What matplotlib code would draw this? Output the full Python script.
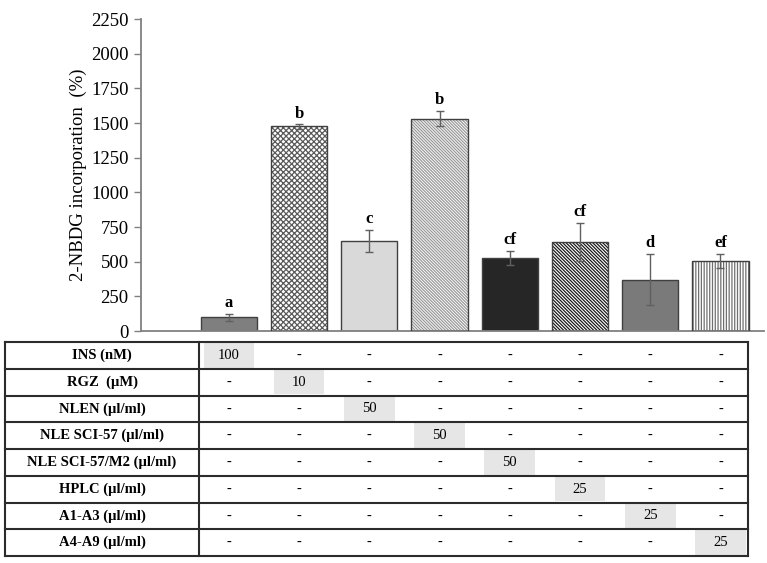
import numpy as np
import matplotlib
matplotlib.use("Agg")
import matplotlib.pyplot as plt

plt.rcParams['font.family'] = ['Liberation Serif', 'DejaVu Serif']
plt.rcParams['hatch.linewidth'] = 0.9

# datos
valores = [100, 1475, 650, 1530, 528, 642, 370, 505]
errores = [25, 15, 80, 55, 50, 140, 185, 50]
letras = ["a", "b", "c", "b", "cf", "cf", "d", "ef"]

filas = ["INS (nM)", "RGZ  (\u00b5M)", "NLEN (\u00b5l/ml)", "NLE SCI-57 (\u00b5l/ml)",
         "NLE SCI-57/M2 (\u00b5l/ml)", "HPLC (\u00b5l/ml)", "A1-A3 (\u00b5l/ml)", "A4-A9 (\u00b5l/ml)"]
dosis = ["100", "10", "50", "50", "50", "25", "25", "25"]

# estilo de cada barra
colores = ["#7f7f7f", "white", "#d9d9d9", "white", "#262626", "white", "#7a7a7a", "white"]
tramas = [None, "x" * 6, None, "\\" * 11, None, "\\" * 10, None, "|" * 6]
color_trama = [None, "#5a5a5a", None, "#9a9a9a", None, "#1a1a1a", None, "#707070"]

W, H = 767, 563
fig = plt.figure(figsize=(W / 100, H / 100), dpi=100)
ax = fig.add_axes([141 / W, 1 - 331 / H, (764 - 141) / W, (331 - 19) / H])

x = np.arange(len(valores))
xmin, xmax = -1.25, 7.62
upx = (xmax - xmin) / (764 - 141)  # unidades por pixel

for i in range(len(valores)):
    if tramas[i]:
        ax.bar(x[i], valores[i], 0.8, color="white", edgecolor=color_trama[i],
               hatch=tramas[i], linewidth=0, zorder=2)
        ax.bar(x[i], valores[i], 0.8, fill=False, edgecolor="#404040", linewidth=1, zorder=3)
    else:
        ax.bar(x[i], valores[i], 0.8, color=colores[i], edgecolor="#404040",
               linewidth=1, zorder=2)

ax.errorbar(x, valores, yerr=errores, fmt="none", ecolor="#606060", elinewidth=1,
            capsize=3, capthick=1, zorder=4)

for i in range(len(valores)):
    ax.annotate(letras[i], (x[i], valores[i] + errores[i]), xytext=(0, 2),
                textcoords="offset points", ha="center", va="bottom",
                fontsize=12, fontweight="bold")

ax.set_xlim(xmin, xmax)
ax.set_ylim(0, 2250)
ax.set_yticks(np.arange(0, 2251, 250))
ax.set_xticks([])
ax.tick_params(axis="y", length=5, width=1, color="#808080", labelsize=13.5, pad=4)
for s in ["top", "right"]:
    ax.spines[s].set_visible(False)
for s in ["left", "bottom"]:
    ax.spines[s].set_color("#808080")
    ax.spines[s].set_linewidth(1.3)
ax.set_ylabel("2-NBDG incorporation  (%)", fontsize=13.5, labelpad=3)

# tabla de tratamientos
tab = fig.add_axes([5 / W, 1 - 556 / H, (764 - 5) / W, (556 - 342) / H])
tleft = xmin - (141 - 5) * upx
tab.set_xlim(tleft, xmax)
tab.set_ylim(len(filas), 0)
tab.axis("off")

div = tleft + (199 - 5) * upx
right = tleft + (748 - 5) * upx
n = len(filas)

for r in range(n):
    tab.text((tleft + div) / 2, r + 0.5, filas[r], ha="center", va="center",
             fontsize=10.5, fontweight="bold")
    for c in range(len(valores)):
        if c == r:
            tab.add_patch(plt.Rectangle((x[c] - 0.36, r + 0.04), 0.72, 0.92,
                                        color="#e6e6e6", lw=0, zorder=1))
            tab.text(x[c], r + 0.5, dosis[r], ha="center", va="center", fontsize=10.5, zorder=2)
        else:
            tab.text(x[c], r + 0.5, "-", ha="center", va="center", fontsize=10.5, zorder=2)

lc = "#2b2b2b"
for r in range(n + 1):
    tab.plot([tleft + 0.005, right], [r, r], color=lc, lw=1.5, clip_on=False, zorder=3)
for xv in [tleft + 0.005, div, right]:
    tab.plot([xv, xv], [0, n], color=lc, lw=1.5, clip_on=False, zorder=3)

fig.savefig("out.png", dpi=100)
